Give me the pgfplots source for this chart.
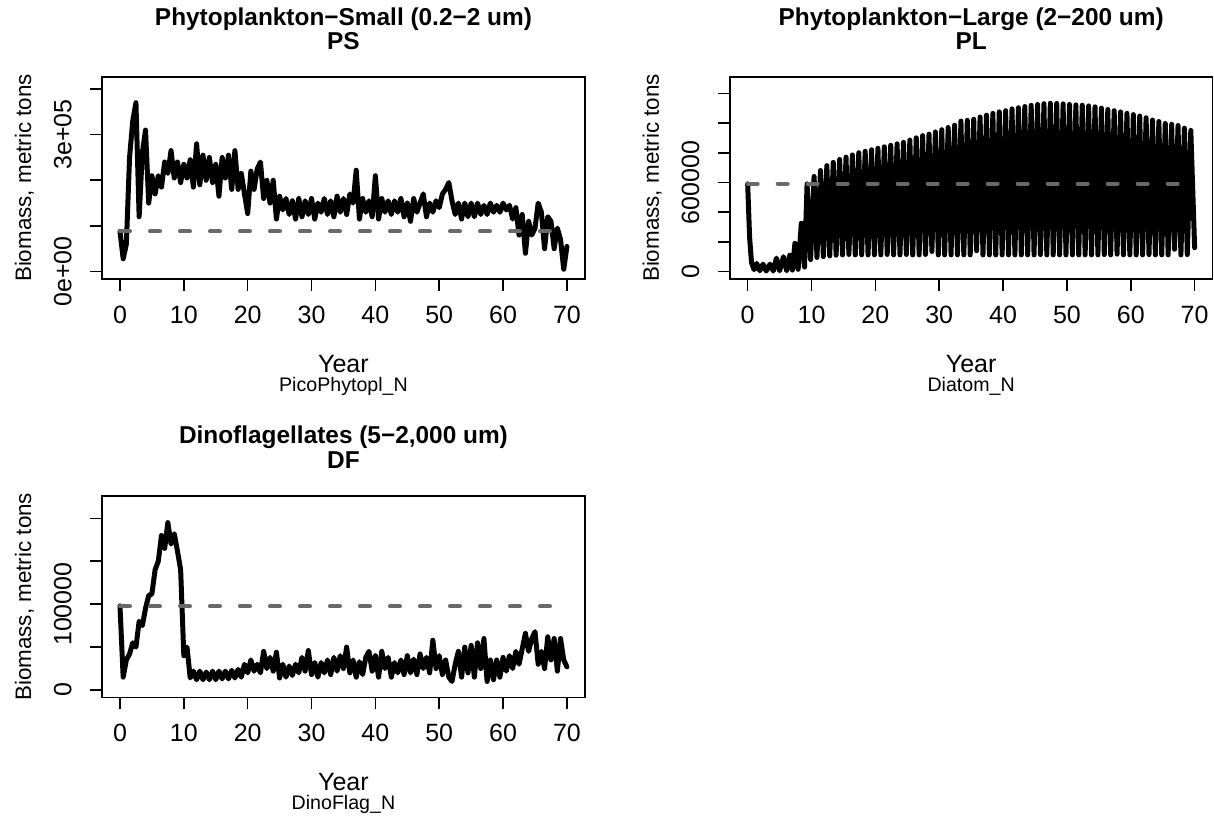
\documentclass[border=0pt]{standalone}
\usepackage{fontspec}
\setmainfont{Liberation Sans}
\usepackage{graphicx}
\usepackage{pgfplots}
\pgfplotsset{compat=1.18}
\definecolor{refgray}{RGB}{105,105,105}
\tikzset{
 titlefont/.style={font=\bfseries\fontsize{12.2}{14}\selectfont, inner sep=0pt},
 labfont/.style={font=\fontsize{12.5}{14}\selectfont, inner sep=0pt},
 ylabfont/.style={font=\fontsize{11.2}{13}\selectfont, inner sep=0pt},
 subfont/.style={font=\fontsize{9.8}{11}\selectfont, inner sep=0pt},
}
\newcommand{\rl}[1]{\rotatebox{90}{#1}}
\pgfplotsset{
 rpanel/.style={
  scale only axis, width=241.35pt,
  xmin=-2.8, xmax=72.8,
  xtick={0,10,20,30,40,50,60,70}, xticklabels={0,10,20,30,40,50,60,70},
  tick pos=left, tick align=outside, major tick length=6pt,
  axis line style={line width=0.8pt},
  every tick/.style={black, line width=0.8pt},
  tick label style={font=\fontsize{12.5}{14}\selectfont},
  xticklabel style={anchor=base},
  yticklabel style={anchor=east, inner sep=0pt},
  xticklabel shift=16.25pt,
  yticklabel shift=9pt,
  scaled ticks=false,
 },
 mainline/.style={black, line width=2.5pt, line join=round, line cap=round},
 refline/.style={refgray, line width=2pt, dash pattern=on 5pt off 10pt, line cap=round},
}
\begin{document}
\begin{tikzpicture}
\useasboundingbox (0,0) rectangle (607pt,409pt);
% ---------------- PS ----------------
\begin{axis}[rpanel, at={(51.05pt,269.5pt)}, anchor=south west, height=101pt,
  ymin=-16400, ymax=426400,
  ytick={0,100000,200000,300000,400000}, yticklabels={\rl{0e+00},{},{},\rl{3e+05},{}},
  extra description/.code={
   \node[titlefont, anchor=base] at (0.5,1.257) {Phytoplankton−Small (0.2−2 um)};
   \node[titlefont, anchor=base] at (0.5,1.134) {PS};
   \node[labfont, anchor=base] at (0.5,-0.463) {Year};
   \node[subfont, anchor=base] at (0.5,-0.557) {PicoPhytopl\_N};
   \node[ylabfont, anchor=base, rotate=90] at (-0.147,0.5) {Biomass, metric tons};
  }]
\addplot[mainline] coordinates {
(0,88000) (0.5,28000) (1,60000) (1.5,250000) (2,330000) (2.5,370000) (3,120000) (3.5,260000) (4,310000) (4.5,150000)
(5,210000) (5.5,170000) (6,210000) (6.5,185000) (7,240000) (7.5,215000) (8,265000) (8.5,205000) (9,240000) (9.5,195000)
(10,235000) (10.5,205000) (11,245000) (11.5,185000) (12,280000) (12.5,190000) (13,255000) (13.5,200000) (14,250000) (14.5,195000)
(15,235000) (15.5,165000) (16,250000) (16.5,205000) (17,255000) (17.5,180000) (18,265000) (18.5,180000) (19,215000) (19.5,170000)
(20,127000) (20.5,220000) (21,180000) (21.5,225000) (22,240000) (22.5,160000) (23,200000) (23.5,150000) (24,200000) (24.5,115000)
(25,165000) (25.5,135000) (26,160000) (26.5,125000) (27,155000) (27.5,115000) (28,160000) (28.5,120000) (29,155000) (29.5,125000)
(30,160000) (30.5,115000) (31,150000) (31.5,130000) (32,160000) (32.5,125000) (33,155000) (33.5,120000) (34,165000) (34.5,130000)
(35,160000) (35.5,125000) (36,170000) (36.5,150000) (37,222000) (37.5,115000) (38,160000) (38.5,130000) (39,155000) (39.5,120000)
(40,210000) (40.5,115000) (41,160000) (41.5,130000) (42,155000) (42.5,125000) (43,155000) (43.5,130000) (44,160000) (44.5,120000)
(45,150000) (45.5,110000) (46,160000) (46.5,130000) (47,150000) (47.5,170000) (48,120000) (48.5,150000) (49,130000) (49.5,155000)
(50,140000) (50.5,170000) (51,180000) (51.5,195000) (52,155000) (52.5,125000) (53,150000) (53.5,115000) (54,150000) (54.5,120000)
(55,150000) (55.5,120000) (56,150000) (56.5,125000) (57,145000) (57.5,125000) (58,150000) (58.5,130000) (59,145000) (59.5,130000)
(60,150000) (60.5,135000) (61,145000) (61.5,115000) (62,140000) (62.5,80000) (63,125000) (63.5,40000) (64,110000) (64.5,80000)
(65,95000) (65.5,150000) (66,130000) (66.5,50000) (67,120000) (67.5,110000) (68,50000) (68.5,95000) (69,70000) (69.5,5000)
(70,55000)
};
\addplot[refline] coordinates {(0,88000) (70,88000)};
\end{axis}
% ---------------- PL ----------------
\begin{axis}[rpanel, at={(364.9pt,269.5pt)}, anchor=south west, height=101pt,
  ymin=-50400, ymax=1310000,
  ytick={0,200000,400000,600000,800000,1000000,1200000}, yticklabels={\rl{0},{},{},\rl{600000},{},{},{}},
  extra description/.code={
   \node[titlefont, anchor=base] at (0.5,1.257) {Phytoplankton−Large (2−200 um)};
   \node[titlefont, anchor=base] at (0.5,1.134) {PL};
   \node[labfont, anchor=base] at (0.5,-0.463) {Year};
   \node[subfont, anchor=base] at (0.5,-0.557) {Diatom\_N};
   \node[ylabfont, anchor=base, rotate=90] at (-0.147,0.5) {Biomass, metric tons};
  }]
\addplot[mainline] coordinates {
(0,590000) (0.3,230000) (0.6,60000) (1.0,12000) (1.4,55000) (1.9,5000) (2.4,50000) (2.9,3000) (3.5,50000) (4.0,3000)
(4.5,90000) (5.0,5000) (5.6,100000) (6.1,5000) (6.6,110000) (7.0,10000) (7.4,190000) (7.9,15000) (8.4,325000) (8.9,30000)
(9.3,590000) (9.85,80000)
(10.4,640000) (10.85,95000) (11.4,680000) (11.85,100000) (12.4,713000) (12.85,105000) (13.4,735000) (13.85,110000)
(14.4,755000) (14.85,112000) (15.4,770000) (15.85,115000) (16.4,785000) (16.85,112000) (17.4,800000) (17.85,112000)
(18.4,810000) (18.85,112000) (19.4,820000) (19.85,112000) (20.4,830000) (20.85,112000) (21.4,840000) (21.85,115000)
(22.4,850000) (22.85,112000) (23.4,860000) (23.85,112000) (24.4,870000) (24.85,115000) (25.4,885000) (25.85,112000)
(26.4,900000) (26.85,112000) (27.4,915000) (27.85,115000) (28.4,925000) (28.85,135000) (29.4,940000) (29.85,112000)
(30.4,955000) (30.85,112000) (31.4,970000) (31.85,112000) (32.4,985000) (32.85,112000) (33.4,1013000) (33.85,112000)
(34.4,1018000) (34.85,112000) (35.4,1025000) (35.85,140000) (36.4,1040000) (36.85,112000) (37.4,1053000) (37.85,112000)
(38.4,1065000) (38.85,112000) (39.4,1075000) (39.85,112000) (40.4,1083000) (40.85,112000) (41.4,1095000) (41.85,112000)
(42.4,1103000) (42.85,112000) (43.4,1111000) (43.85,112000) (44.4,1119000) (44.85,112000) (45.4,1125000) (45.85,114000)
(46.4,1130000) (46.85,112000) (47.4,1133000) (47.85,112000) (48.4,1132000) (48.85,112000) (49.4,1129000) (49.85,112000)
(50.4,1125000) (50.85,112000) (51.4,1122000) (51.85,112000) (52.4,1120000) (52.85,112000) (53.4,1115000) (53.85,112000)
(54.4,1109000) (54.85,112000) (55.4,1100000) (55.85,114000) (56.4,1091000) (56.85,112000) (57.4,1083000) (57.85,117000)
(58.4,1075000) (58.85,112000) (59.4,1065000) (59.85,112000) (60.4,1057000) (60.85,112000) (61.4,1047000) (61.85,112000)
(62.4,1035000) (62.85,114000) (63.4,1020000) (63.85,112000) (64.4,1010000) (64.85,112000) (65.4,997000) (65.85,112000)
(66.4,991000) (66.85,150000) (67.4,983000) (67.85,112000) (68.4,965000) (68.85,114000) (69.4,950000) (70.0,160000)
};
\addplot[refline] coordinates {(0,592000) (70,592000)};
\end{axis}
% ---------------- DF ----------------
\begin{axis}[rpanel, at={(51.05pt,60.25pt)}, anchor=south west, height=100.75pt,
  ymin=-8700, ymax=226000,
  ytick={0,50000,100000,150000,200000}, yticklabels={\rl{0},{},\rl{100000},{},{}},
  extra description/.code={
   \node[titlefont, anchor=base] at (0.5,1.26) {Dinoflagellates (5−2,000 um)};
   \node[titlefont, anchor=base] at (0.5,1.136) {DF};
   \node[labfont, anchor=base] at (0.5,-0.464) {Year};
   \node[subfont, anchor=base] at (0.5,-0.558) {DinoFlag\_N};
   \node[ylabfont, anchor=base, rotate=90] at (-0.147,0.5) {Biomass, metric tons};
  }]
\addplot[mainline] coordinates {
(0,98000) (0.5,15000) (1,35000) (1.5,42000) (2,55000) (2.5,50000) (3,80000) (3.5,75000) (4,95000) (4.5,110000)
(5,112000) (5.5,140000) (6,150000) (6.5,180000) (7,165000) (7.5,195000) (8,170000) (8.5,182000) (9,162000) (9.5,140000)
(10,40000) (10.5,50000) (11,14000) (11.5,22000) (12,12000) (12.5,22000) (13,12000) (13.5,21000) (14,12000) (14.5,22000)
(15,12000) (15.5,22000) (16,13000) (16.5,22000) (17,13000) (17.5,23000) (18,14000) (18.5,24000) (19,15000) (19.5,30000)
(20,20000) (20.5,35000) (21,22000) (21.5,30000) (22,20000) (22.5,45000) (23,25000) (23.5,38000) (24,22000) (24.5,44000)
(25,14000) (25.5,30000) (26,15000) (26.5,28000) (27,17000) (27.5,30000) (28,20000) (28.5,38000) (29,22000) (29.5,46000)
(30,18000) (30.5,32000) (31,15000) (31.5,32000) (32,20000) (32.5,35000) (33,18000) (33.5,38000) (34,22000) (34.5,40000)
(35,25000) (35.5,50000) (36,20000) (36.5,35000) (37,15000) (37.5,33000) (38,18000) (38.5,38000) (39,45000) (39.5,22000)
(40,40000) (40.5,15000) (41,45000) (41.5,25000) (42,38000) (42.5,15000) (43,32000) (43.5,20000) (44,35000) (44.5,18000)
(45,40000) (45.5,20000) (46,36000) (46.5,18000) (47,42000) (47.5,25000) (48,38000) (48.5,20000) (49,58000) (49.5,25000)
(50,40000) (50.5,18000) (51,35000) (51.5,15000) (52,10000) (52.5,30000) (53,45000) (53.5,15000) (54,50000) (54.5,20000)
(55,52000) (55.5,15000) (56,55000) (56.5,25000) (57,60000) (57.5,10000) (58,35000) (58.5,12000) (59,35000) (59.5,15000)
(60,38000) (60.5,22000) (61,40000) (61.5,25000) (62,45000) (62.5,30000) (63,48000) (63.5,66000) (64,45000) (64.5,60000)
(65,68000) (65.5,30000) (66,45000) (66.5,25000) (67,62000) (67.5,35000) (68,60000) (68.5,22000) (69,60000) (69.5,35000)
(70,27000)
};
\addplot[refline] coordinates {(0,97500) (70,97500)};
\end{axis}
\end{tikzpicture}
\end{document}
